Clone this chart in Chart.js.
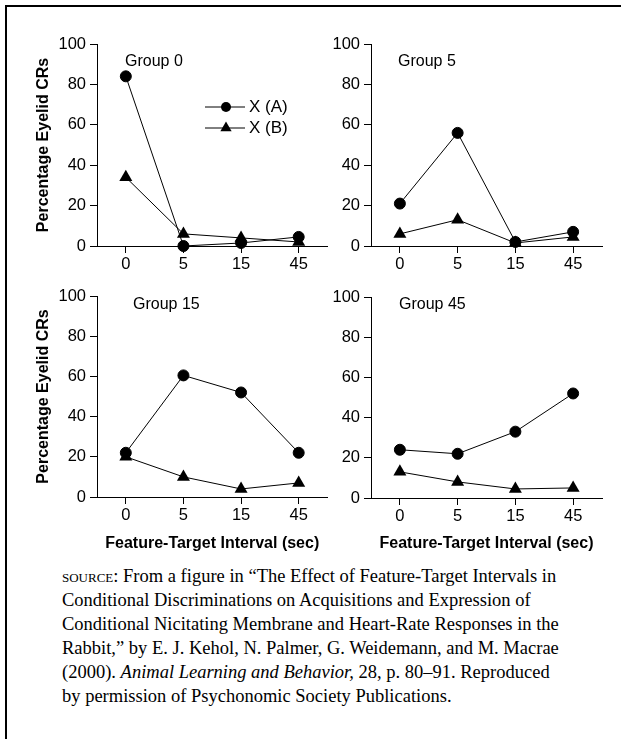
<!DOCTYPE html>
<html>
<head>
<meta charset="utf-8">
<script src="https://cdn.jsdelivr.net/npm/chart.js@4/dist/chart.umd.min.js"></script>
<style>
  html, body { margin: 0; padding: 0; background: #fff; }
  #page { position: relative; width: 621px; height: 739px; overflow: hidden; background: #fff; }
  #frame { position: absolute; left: 5px; top: 5px; width: 700px; height: 800px;
           border-top: 2px solid #000; border-left: 2px solid #000; }
  canvas { position: absolute; }
  #source { position: absolute; left: 62px; top: 564px; color: #000; white-space: nowrap;
            font-family: 'Liberation Serif', 'Times New Roman', serif; font-size: 18.5px; line-height: 24px; }
  #source .sc { font-variant: small-caps; }
</style>
</head>
<body>
<div id="page">
  <div id="frame"></div>
  <canvas id="c0"></canvas>
  <canvas id="c1"></canvas>
  <canvas id="c2"></canvas>
  <canvas id="c3"></canvas>
  <div id="source">
    <span class="sc">source:</span> From a figure in “The Effect of Feature-Target Intervals in<br>
    Conditional Discriminations on Acquisitions and Expression of<br>
    Conditional Nicitating Membrane and Heart-Rate Responses in the<br>
    Rabbit,” by E. J. Kehol, N. Palmer, G. Weidemann, and M. Macrae<br>
    (2000). <i>Animal Learning and Behavior,</i> 28, p. 80–91. Reproduced<br>
    by permission of Psychonomic Society Publications.
  </div>
</div>
<script>
// Feature-target interval categories (sec) and series names
const intervalLabels = ['0', '5', '15', '45'];
const groupTitles = ['Group 0', 'Group 5', 'Group 15', 'Group 45'];
const seriesNames = ['X (A)', 'X (B)'];

// Percentage eyelid CRs for each group, one value per interval
const group0A = [84, 0, 1.5, 4.5];
const group0B = [34, 6, 4, 2];
const group5A = [21, 56, 2, 7];
const group5B = [6, 13, 1.5, 4.5];
const group15A = [22, 60.5, 52, 22];
const group15B = [20, 10, 4, 7];
const group45A = [24, 22, 33, 52];
const group45B = [13, 8, 4.5, 5];

// Y axis: minor tick every 10, labelled every 20
const yMajorTicks = [0, 20, 40, 60, 80, 100];

const SANS = "'Liberation Sans', Arial, sans-serif";
Chart.defaults.font.family = SANS;
Chart.defaults.color = '#000';

// Panel placement: canvas box and the plot area inside the page
const panels = [
  { id: 'c0', title: groupTitles[0], a: group0A, b: group0B,
    canvas: { x: 0, y: 0, w: 335, h: 275 }, area: { l: 97, t: 44, r: 328, b: 246 },
    yTitle: true, xTitle: false, label: { dx: 28, dy: 18 }, legend: true },
  { id: 'c1', title: groupTitles[1], a: group5A, b: group5B,
    canvas: { x: 300, y: 0, w: 321, h: 275 }, area: { l: 371, t: 44, r: 602, b: 246 },
    yTitle: false, xTitle: false, label: { dx: 27, dy: 18 }, legend: false },
  { id: 'c2', title: groupTitles[2], a: group15A, b: group15B,
    canvas: { x: 0, y: 270, w: 335, h: 290 }, area: { l: 97, t: 296, r: 328, b: 497 },
    yTitle: true, xTitle: true, label: { dx: 36, dy: 9 }, legend: false },
  { id: 'c3', title: groupTitles[3], a: group45A, b: group45B,
    canvas: { x: 300, y: 270, w: 321, h: 290 }, area: { l: 371, t: 297, r: 602, b: 498 },
    yTitle: false, xTitle: true, label: { dx: 28, dy: 8 }, legend: false }
];

// Group caption and the key (line + marker + name) drawn inside the plot
const panelDecor = {
  id: 'panelDecor',
  afterDatasetsDraw(chart, args, opts) {
    const { ctx, chartArea: ca } = chart;
    ctx.save();
    ctx.fillStyle = '#000';
    ctx.strokeStyle = '#000';
    ctx.font = '16px ' + SANS;
    ctx.textBaseline = 'middle';
    ctx.textAlign = 'left';
    ctx.fillText(opts.title, ca.left + opts.label.dx, ca.top + opts.label.dy);
    if (opts.legend) {
      const x0 = ca.left + 108, len = 40;
      ctx.font = '17px ' + SANS;
      chart.data.datasets.forEach((ds, i) => {
        const y = ca.top + 63 + i * 21;
        ctx.lineWidth = 1;
        ctx.beginPath();
        ctx.moveTo(x0, y);
        ctx.lineTo(x0 + len, y);
        ctx.stroke();
        const mx = x0 + 21;
        ctx.beginPath();
        if (ds.pointStyle === 'triangle') {
          const r = 6.5;
          ctx.moveTo(mx, y - r);
          ctx.lineTo(mx + r * 0.866, y + r / 2);
          ctx.lineTo(mx - r * 0.866, y + r / 2);
          ctx.closePath();
        } else {
          ctx.arc(mx, y, 5, 0, Math.PI * 2);
        }
        ctx.fill();
        ctx.fillText(ds.label, x0 + 44, y);
      });
    }
    ctx.restore();
  }
};

panels.forEach(p => {
  const el = document.getElementById(p.id);
  el.width = p.canvas.w;
  el.height = p.canvas.h;
  el.style.left = p.canvas.x + 'px';
  el.style.top = p.canvas.y + 'px';
  const yWidth = p.area.l - p.canvas.x;
  const xHeight = p.canvas.y + p.canvas.h - p.area.b;

  new Chart(el, {
    type: 'line',
    data: {
      labels: intervalLabels,
      datasets: [
        { label: seriesNames[0], data: p.a, pointStyle: 'circle', pointRadius: 5.5,
          borderColor: '#000', backgroundColor: '#000', borderWidth: 1,
          pointBorderWidth: 1, tension: 0, clip: false },
        { label: seriesNames[1], data: p.b, pointStyle: 'triangle', pointRadius: 7.5,
          borderColor: '#000', backgroundColor: '#000', borderWidth: 1,
          pointBorderWidth: 0, tension: 0, clip: false }
      ]
    },
    options: {
      responsive: false,
      animation: false,
      events: [],
      layout: { padding: { left: 0, bottom: 0,
        top: p.area.t - p.canvas.y, right: p.canvas.x + p.canvas.w - p.area.r } },
      plugins: {
        legend: { display: false },
        tooltip: { enabled: false },
        panelDecor: { title: p.title, label: p.label, legend: p.legend }
      },
      scales: {
        x: {
          type: 'category',
          offset: true,
          grid: { display: true, drawOnChartArea: false, drawTicks: true, tickLength: 7,
                  offset: false, color: '#000', lineWidth: 1 },
          border: { display: true, color: '#000', width: 1 },
          ticks: { font: { size: 16.5 }, padding: 2, maxRotation: 0, autoSkip: false, color: '#000' },
          title: { display: p.xTitle, text: 'Feature-Target Interval (sec)',
                   font: { size: 16, weight: 'bold' }, padding: { top: 0, bottom: 7 }, color: '#000' },
          afterFit: s => { s.height = xHeight; }
        },
        y: {
          min: 0, max: 100,
          grid: { display: true, drawOnChartArea: false, drawTicks: true, tickLength: 7,
                  color: '#000', lineWidth: 1 },
          border: { display: true, color: '#000', width: 1 },
          ticks: { stepSize: 10, font: { size: 16.5 }, padding: 4, color: '#000',
                   callback: v => yMajorTicks.includes(v) ? String(v) : '' },
          title: { display: p.yTitle, text: 'Percentage Eyelid CRs',
                   font: { size: 16, weight: 'bold' }, padding: { top: 34, bottom: 0 }, color: '#000' },
          afterFit: s => { s.width = yWidth; }
        }
      }
    },
    plugins: [panelDecor]
  });
});
</script>
</body>
</html>
